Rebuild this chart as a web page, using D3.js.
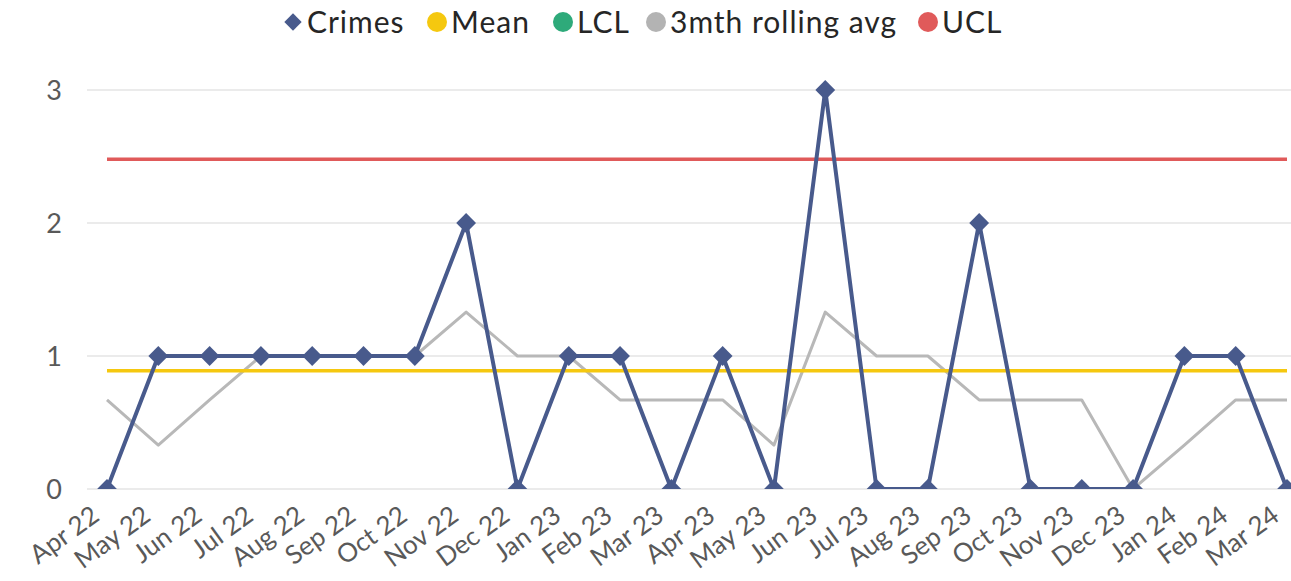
<!DOCTYPE html>
<html>
<head>
<meta charset="utf-8">
<script src="https://cdn.jsdelivr.net/npm/d3@7"></script>
<style>
  html, body { margin: 0; padding: 0; background: #fff; }
  svg { display: block; font-family: Lato, "Open Sans", sans-serif; }
</style>
</head>
<body>
<svg id="chart" width="1291" height="581"></svg>
<script>
const months = ["Apr 22","May 22","Jun 22","Jul 22","Aug 22","Sep 22","Oct 22","Nov 22","Dec 22","Jan 23","Feb 23","Mar 23","Apr 23","May 23","Jun 23","Jul 23","Aug 23","Sep 23","Oct 23","Nov 23","Dec 23","Jan 24","Feb 24","Mar 24"];
const crimes = [0,1,1,1,1,1,1,2,0,1,1,0,1,0,3,0,0,2,0,0,0,1,1,0];
const rolling = [0.67,0.33,0.67,1,1,1,1,1.33,1,1,0.67,0.67,0.67,0.33,1.33,1,1,0.67,0.67,0.67,0,0.33,0.67,0.67];
const meanVals = months.map(() => 0.89);
const lclVals = months.map(() => -0.7);
const uclVals = months.map(() => 2.48);
const yTicks = [0,1,2,3];

const legendItems = [
  {name: "Crimes", color: "#485a8c", shape: "diamond"},
  {name: "Mean", color: "#f5c80f", shape: "circle"},
  {name: "LCL", color: "#2eaa7a", shape: "circle"},
  {name: "3mth rolling avg", color: "#b3b3b3", shape: "circle"},
  {name: "UCL", color: "#e05a5a", shape: "circle"}
];

const svg = d3.select("#chart");
const x = d3.scalePoint().domain(months).range([107, 1287]);
const y = d3.scaleLinear().domain([0, 3]).range([489, 90]);

svg.append("defs").append("clipPath").attr("id", "plotClip")
  .append("rect").attr("x", 80).attr("y", 40).attr("width", 1300).attr("height", 489 - 40);

// gridlines
svg.append("g").selectAll("line").data(yTicks).join("line")
  .attr("x1", 87).attr("x2", 1291)
  .attr("y1", d => y(d)).attr("y2", d => y(d))
  .attr("stroke", "#e4e4e4").attr("stroke-width", 1.5);

// y labels
svg.append("g").selectAll("text").data(yTicks).join("text")
  .attr("x", 62).attr("y", d => y(d)).attr("dy", "0.36em")
  .attr("text-anchor", "end").attr("fill", "#595959")
  .attr("font-size", 27).text(d => d);

// x labels
svg.append("g").selectAll("text").data(months).join("text")
  .attr("transform", d => `translate(${x(d) - 17},${504}) rotate(-36)`)
  .attr("dy", "0.72em")
  .attr("text-anchor", "end").attr("fill", "#595959")
  .attr("font-size", 26).text(d => d);

const plot = svg.append("g").attr("clip-path", "url(#plotClip)");
const line = d3.line().x((d, i) => x(months[i])).y(d => y(d));

function drawLine(vals, color, w) {
  plot.append("path").datum(vals)
    .attr("d", line).attr("fill", "none")
    .attr("stroke", color).attr("stroke-width", w)
    .attr("stroke-linejoin", "round");
}
drawLine(lclVals, "#2eaa7a", 3);
drawLine(rolling, "#b8b8b8", 3);
drawLine(uclVals, "#e05a5a", 3.5);
drawLine(meanVals, "#f5c80f", 3.5);
drawLine(crimes, "#485a8c", 4);

plot.append("g").selectAll("path").data(crimes).join("path")
  .attr("d", d3.symbol().type(d3.symbolSquare).size(196))
  .attr("transform", (d, i) => `translate(${x(months[i])},${y(d)}) rotate(45)`)
  .attr("fill", "#485a8c");

// legend
const legend = svg.append("g").attr("font-size", 30).attr("fill", "#262626").attr("letter-spacing", 1);
const legendX = [293, 437, 563, 656, 928];
legendItems.forEach((it, i) => {
  const g = legend.append("g").attr("transform", `translate(${legendX[i]},22)`);
  if (it.shape === "diamond") {
    g.append("path").attr("d", d3.symbol().type(d3.symbolSquare).size(150)())
      .attr("transform", "rotate(45)").attr("fill", it.color);
  } else {
    g.append("circle").attr("r", 10).attr("fill", it.color);
  }
  g.append("text").attr("x", 14).attr("dy", "0.36em").text(it.name);
});
</script>
</body>
</html>
